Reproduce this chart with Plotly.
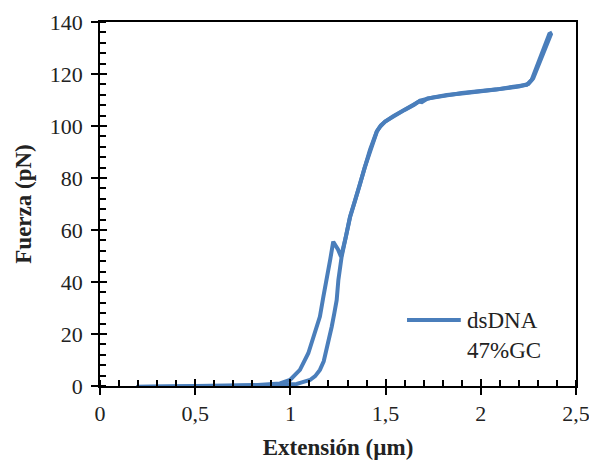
import plotly.graph_objects as go

# Force-extension curve of a dsDNA molecule (47% GC): pulling and relaxing branches
ext_pull = [0.19, 0.3, 0.4, 0.5, 0.6, 0.7, 0.8, 0.9, 0.95, 1.0, 1.033, 1.06, 1.103,
            1.13, 1.155, 1.175, 1.19, 1.217, 1.231, 1.243, 1.252, 1.269, 1.29, 1.313,
            1.34, 1.366, 1.39, 1.418, 1.453, 1.471, 1.497, 1.53, 1.558, 1.6, 1.65,
            1.681, 1.75, 1.821, 1.9, 1.996, 2.08, 2.171, 2.241, 2.267, 2.293, 2.328,
            2.36, 2.375]
force_pull = [-0.4, -0.3, -0.3, -0.2, -0.2, -0.1, 0.1, 0.3, 0.5, 0.7, 0.8, 1.4, 2.3,
              3.8, 6.2, 9.5, 13.8, 22.8, 28.1, 33.0, 40.8, 49.7, 57.0, 65.1, 71.5,
              78.0, 84.3, 90.8, 97.8, 99.7, 101.7, 103.2, 104.2, 106.2, 108.2, 109.8,
              111.0, 111.9, 112.5, 113.2, 114.0, 115.1, 115.8, 117.7, 122.8, 129.2,
              135.4, 136.0]

ext_relax = [2.37, 2.335, 2.3, 2.275, 2.25, 2.2, 2.1, 2.0, 1.9, 1.8, 1.72, 1.69,
             1.675, 1.63, 1.58, 1.54, 1.5, 1.475, 1.455, 1.42, 1.39, 1.365, 1.34,
             1.313, 1.29, 1.266, 1.25, 1.225, 1.21, 1.19, 1.173, 1.155, 1.129, 1.094,
             1.05, 0.998, 0.945, 0.88, 0.8, 0.7, 0.6, 0.5, 0.4, 0.3, 0.2]
force_relax = [135.6, 129.5, 123.0, 118.3, 116.2, 115.2, 114.2, 113.4, 112.7, 111.5,
               110.6, 109.2, 109.4, 107.5, 105.5, 103.8, 101.8, 100.3, 98.0, 91.0,
               84.0, 77.5, 71.0, 64.8, 57.0, 49.7, 52.5, 55.5, 49.0, 42.0, 34.3, 26.7,
               20.3, 12.6, 6.2, 2.3, 1.0, 0.5, 0.2, 0.0, -0.1, -0.2, -0.3, -0.3, -0.3]

legend_lines = ["dsDNA", "47%GC"]

LINE_COLOR = "#4A7EBB"
FONT = "'Liberation Serif', 'Times New Roman', serif"

fig = go.Figure()
for xs, ys in [(ext_pull, force_pull), (ext_relax, force_relax)]:
    fig.add_trace(go.Scatter(x=xs, y=ys, mode="lines",
                             line=dict(color=LINE_COLOR, width=4),
                             showlegend=False, hoverinfo="skip"))

# empty trace so the overlay axes (inner half of the major ticks) are rendered
fig.add_trace(go.Scatter(x=[], y=[], xaxis="x2", yaxis="y2", showlegend=False,
                         hoverinfo="skip"))

axis_common = dict(showgrid=False, zeroline=False, showline=True, linecolor="black",
                   linewidth=1.5, mirror=True, ticks="outside", ticklen=7,
                   tickwidth=1.5, tickcolor="black", automargin=False,
                   ticklabeloverflow="allow",
                   tickfont=dict(family=FONT, size=22, color="#222"))

fig.update_layout(
    width=589, height=461,
    margin=dict(l=100, r=13, t=22, b=75),
    paper_bgcolor="white", plot_bgcolor="white",
    separators=",.",
    font=dict(family=FONT, color="#222"),
    xaxis=dict(range=[0, 2.5], tick0=0, dtick=0.5,
               minor=dict(dtick=0.1, ticks="inside", ticklen=6, tickwidth=1.5,
                          tickcolor="black"),
               title=dict(text="<b>Extensión (µm)</b>", standoff=14,
                          font=dict(family=FONT, size=23, color="#222")),
               **axis_common),
    yaxis=dict(range=[0, 140], tick0=0, dtick=20, ticklabelstandoff=4,
               minor=dict(dtick=4, ticks="inside", ticklen=6, tickwidth=1.5,
                          tickcolor="black"),
               title=dict(text="<b>Fuerza (pN)</b>", standoff=12,
                          font=dict(family=FONT, size=23, color="#222")),
               **axis_common),
    xaxis2=dict(overlaying="x", anchor="y2", range=[0, 2.5], tick0=0, dtick=0.5,
                ticks="inside", ticklen=7, tickwidth=1.5, tickcolor="black",
                showticklabels=False, showline=False, showgrid=False, zeroline=False),
    yaxis2=dict(overlaying="y", anchor="x2", range=[0, 140], tick0=0, dtick=20,
                ticks="inside", ticklen=7, tickwidth=1.5, tickcolor="black",
                showticklabels=False, showline=False, showgrid=False, zeroline=False),
)

# legend entry: line sample plus two lines of text
fig.add_shape(type="line", xref="paper", yref="paper", x0=0.645, x1=0.758,
              y0=0.181, y1=0.181, line=dict(color=LINE_COLOR, width=4))
for i, txt in enumerate(legend_lines):
    fig.add_annotation(text=txt, xref="paper", yref="paper", x=0.767,
                       y=0.181 - i * 0.083, xanchor="left", yanchor="middle",
                       showarrow=False, font=dict(family=FONT, size=23, color="#222"))

fig.write_html("out.html")
